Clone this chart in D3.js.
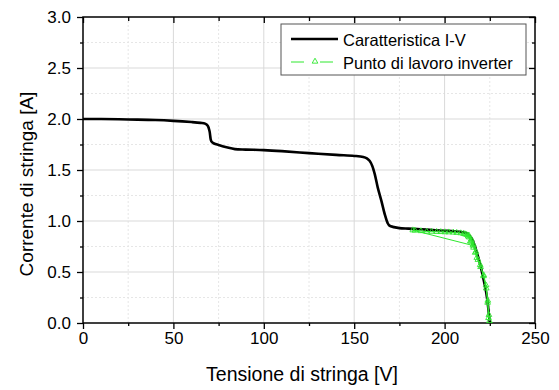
<!DOCTYPE html>
<html>
<head>
<meta charset="utf-8">
<script src="https://cdn.jsdelivr.net/npm/d3@7"></script>
<style>
  body { margin: 0; background: #fff; }
  text { font-family: Arial, "Liberation Sans", sans-serif; fill: #000; }
</style>
</head>
<body>
<div id="chart"></div>
<script>
// I-V characteristic of the string (V, A)
const ivVoltage = [0, 10, 25, 40, 50, 60, 65, 67.5, 69, 70, 71, 72.5, 75, 80, 84, 90, 100, 110, 125, 140, 150, 155, 157, 158.5, 160, 161.5, 163, 165, 167, 168.5, 169.5, 172, 175, 180, 185, 190, 200, 205, 208, 210, 212, 213.5, 215, 216, 217, 218, 219, 220, 221, 222, 223, 224, 224.6, 225];
const ivCurrent = [2.0, 2.0, 1.995, 1.99, 1.982, 1.97, 1.962, 1.955, 1.935, 1.88, 1.78, 1.76, 1.745, 1.72, 1.705, 1.7, 1.695, 1.685, 1.665, 1.648, 1.638, 1.628, 1.615, 1.59, 1.54, 1.45, 1.33, 1.2, 1.06, 0.98, 0.955, 0.94, 0.93, 0.925, 0.92, 0.915, 0.905, 0.9, 0.895, 0.89, 0.88, 0.86, 0.83, 0.79, 0.74, 0.68, 0.62, 0.55, 0.47, 0.39, 0.3, 0.17, 0.07, 0.0];

// Inverter working points (tracked sequence)
const opVoltage = [224.3, 223.8, 223.0, 221.5, 219.7, 217.8, 216.9, 216.0, 214.8, 213.6, 212.2, 210.5, 208.9, 206.7, 204.8, 202.3, 200.2, 197.9, 195.6, 192.8, 190.1, 186.9, 183.6, 182.4, 215.6, 214.2, 213.0, 211.2, 213.4, 214.8, 215.9, 217.3, 218.4, 219.9, 221.6, 222.9, 223.9, 224.5, 224.8];
const opCurrent = [0.05, 0.2, 0.34, 0.46, 0.57, 0.64, 0.69, 0.74, 0.8, 0.84, 0.865, 0.875, 0.881, 0.885, 0.888, 0.89, 0.891, 0.893, 0.894, 0.896, 0.897, 0.902, 0.907, 0.91, 0.76, 0.8, 0.85, 0.872, 0.86, 0.82, 0.77, 0.7, 0.62, 0.55, 0.47, 0.37, 0.22, 0.08, 0.02];

const xTicks = [0, 50, 100, 150, 200, 250];
const yTicks = [0, 0.5, 1.0, 1.5, 2.0, 2.5, 3.0];
const xMinor = [25, 75, 125, 175, 225];
const yMinor = [0.25, 0.75, 1.25, 1.75, 2.25, 2.75];

const legendLabels = ["Caratteristica I-V", "Punto di lavoro inverter"];
const xTitle = "Tensione di stringa [V]";
const yTitle = "Corrente di stringa [A]";

const W = 559, H = 390;
const m = { top: 17, right: 24, bottom: 67, left: 83 };
const iw = W - m.left - m.right, ih = H - m.top - m.bottom;

const svg = d3.select("#chart").append("svg")
  .attr("width", W).attr("height", H);
const g = svg.append("g").attr("transform", `translate(${m.left},${m.top})`);

const x = d3.scaleLinear().domain([0, 250]).range([0, iw]);
const y = d3.scaleLinear().domain([0, 3]).range([ih, 0]);

// grid
g.append("g").selectAll("line").data(xMinor).enter().append("line")
  .attr("x1", d => x(d)).attr("x2", d => x(d)).attr("y1", 0).attr("y2", ih)
  .attr("stroke", "#e6e6e6").attr("stroke-dasharray", "2,2");
g.append("g").selectAll("line").data(yMinor).enter().append("line")
  .attr("y1", d => y(d)).attr("y2", d => y(d)).attr("x1", 0).attr("x2", iw)
  .attr("stroke", "#e6e6e6").attr("stroke-dasharray", "2,2");
g.append("g").selectAll("line").data(xTicks.slice(1, -1)).enter().append("line")
  .attr("x1", d => x(d)).attr("x2", d => x(d)).attr("y1", 0).attr("y2", ih)
  .attr("stroke", "#d9d9d9");
g.append("g").selectAll("line").data(yTicks.slice(1, -1)).enter().append("line")
  .attr("y1", d => y(d)).attr("y2", d => y(d)).attr("x1", 0).attr("x2", iw)
  .attr("stroke", "#d9d9d9");

// axes
function styleAxis(sel) {
  sel.select(".domain").remove();
  sel.selectAll("line").attr("stroke", "#000").attr("stroke-width", 1.3);
  sel.selectAll("text").style("font-size", "17px").style("font-family", "Arial, 'Liberation Sans', sans-serif");
}
const fmt = d3.format(".1f");
g.append("g").attr("transform", `translate(0,${ih})`)
  .call(d3.axisBottom(x).tickValues(xTicks).tickSize(6).tickPadding(3).tickFormat(d3.format("d")))
  .call(styleAxis);
g.append("g").attr("transform", `translate(0,${ih})`)
  .call(d3.axisBottom(x).tickValues(xMinor).tickSize(3).tickFormat(""))
  .call(styleAxis);
g.append("g")
  .call(d3.axisLeft(y).tickValues(yTicks).tickSize(6).tickPadding(6).tickFormat(fmt))
  .call(styleAxis);
g.append("g")
  .call(d3.axisLeft(y).tickValues(yMinor).tickSize(3).tickFormat(""))
  .call(styleAxis);
// mirrored inward ticks on top / right
g.append("g").call(d3.axisBottom(x).tickValues(xTicks).tickSize(6).tickFormat("")).call(styleAxis);
g.append("g").call(d3.axisBottom(x).tickValues(xMinor).tickSize(4).tickFormat("")).call(styleAxis);
g.append("g").attr("transform", `translate(${iw},0)`)
  .call(d3.axisLeft(y).tickValues(yTicks).tickSize(6).tickFormat("")).call(styleAxis);
g.append("g").attr("transform", `translate(${iw},0)`)
  .call(d3.axisLeft(y).tickValues(yMinor).tickSize(3).tickFormat("")).call(styleAxis);

// frame
g.append("rect").attr("width", iw).attr("height", ih)
  .attr("fill", "none").attr("stroke", "#000").attr("stroke-width", 1.5);

// I-V curve
const ivData = ivVoltage.map((v, i) => [v, ivCurrent[i]]);
g.append("path").datum(ivData)
  .attr("d", d3.line().x(d => x(d[0])).y(d => y(d[1])).curve(d3.curveCatmullRom))
  .attr("fill", "none").attr("stroke", "#000").attr("stroke-width", 2.6)
  .attr("stroke-linejoin", "round");

// working points
const opData = opVoltage.map((v, i) => [v, opCurrent[i]]);
const green = "#2ee82e";
g.append("path").datum(opData)
  .attr("d", d3.line().x(d => x(d[0])).y(d => y(d[1])))
  .attr("fill", "none").attr("stroke", green).attr("stroke-width", 1);
const tri = d3.symbol().type(d3.symbolTriangle).size(14);
g.append("g").selectAll("path").data(opData).enter().append("path")
  .attr("d", tri)
  .attr("transform", d => `translate(${x(d[0])},${y(d[1])})`)
  .attr("fill", "none").attr("stroke", green).attr("stroke-width", 0.9);

// axis titles
svg.append("text").attr("x", 302).attr("y", 381)
  .attr("text-anchor", "middle").style("font-size", "19.5px").text(xTitle);
svg.append("text").attr("transform", "translate(33,184) rotate(-90)")
  .attr("text-anchor", "middle").style("font-size", "19px").text(yTitle);

// legend
const lg = svg.append("g");
lg.append("rect").attr("x", 281).attr("y", 24).attr("width", 245).attr("height", 51)
  .attr("fill", "#fff").attr("stroke", "#555").attr("stroke-width", 1);
lg.append("line").attr("x1", 291).attr("x2", 338).attr("y1", 39).attr("y2", 39)
  .attr("stroke", "#000").attr("stroke-width", 2.6);
lg.append("line").attr("x1", 291).attr("x2", 338).attr("y1", 62).attr("y2", 62)
  .attr("stroke", green).attr("stroke-width", 1).attr("stroke-dasharray", "13,8,0,8,13");
lg.append("path").attr("d", tri).attr("transform", "translate(315,61.5)")
  .attr("fill", "none").attr("stroke", green).attr("stroke-width", 0.9);
lg.selectAll("text.lab").data(legendLabels).enter().append("text")
  .attr("x", 343).attr("y", (d, i) => 45.5 + i * 23.5)
  .style("font-size", "16.5px").text(d => d);
</script>
</body>
</html>
